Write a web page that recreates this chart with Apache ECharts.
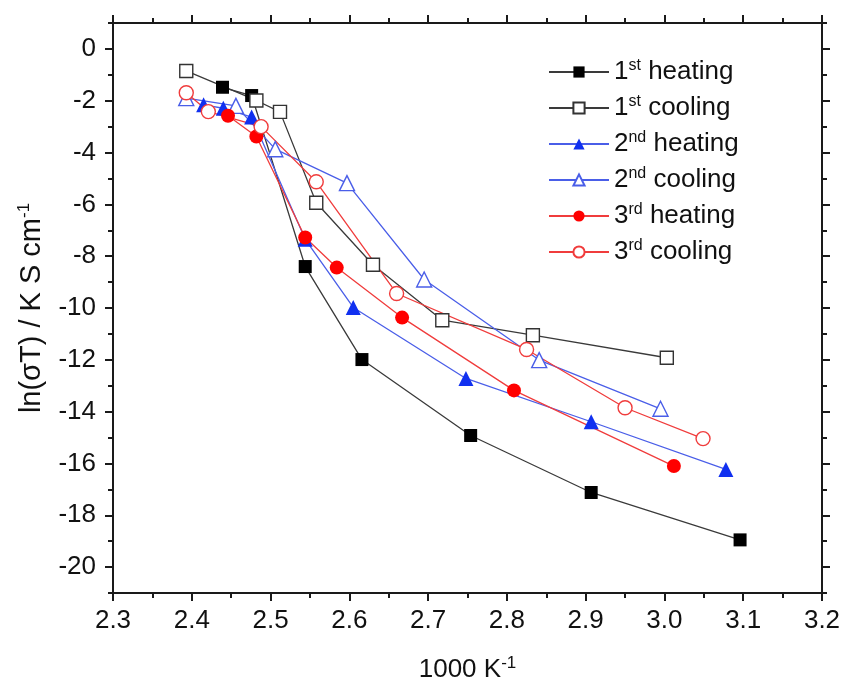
<!DOCTYPE html>
<html>
<head>
<meta charset="utf-8">
<script src="https://cdn.jsdelivr.net/npm/echarts@6/dist/echarts.min.js"></script>
<style>
  html, body { margin: 0; padding: 0; background: #fff; }
  #chart { width: 847px; height: 690px; }
</style>
</head>
<body>
<div id="chart"></div>
<script>
// Conductivity data: x = 1000/T (K^-1), y = ln(sigma*T)
const heating1 = [[2.439, -1.48], [2.476, -1.80], [2.544, -8.40], [2.616, -11.99], [2.754, -14.92], [2.907, -17.12], [3.096, -18.95]];
const cooling1 = [[2.393, -0.85], [2.482, -1.99], [2.512, -2.43], [2.558, -5.94], [2.630, -8.33], [2.718, -10.47], [2.833, -11.05], [3.003, -11.92]];
const heating2 = [[2.415, -2.16], [2.440, -2.29], [2.476, -2.63], [2.544, -7.35], [2.605, -9.98], [2.748, -12.72], [2.907, -14.39], [3.078, -16.23]];
const cooling2 = [[2.393, -1.90], [2.456, -2.20], [2.506, -3.87], [2.597, -5.18], [2.695, -8.90], [2.841, -12.01], [2.995, -13.89]];
const heating3 = [[2.446, -2.58], [2.482, -3.38], [2.544, -7.28], [2.584, -8.44], [2.667, -10.37], [2.809, -13.18], [3.012, -16.10]];
const cooling3 = [[2.393, -1.69], [2.421, -2.42], [2.488, -3.00], [2.558, -5.13], [2.660, -9.44], [2.825, -11.60], [2.950, -13.85], [3.049, -15.04]];

const seriesNames = ['1st heating', '1st cooling', '2nd heating', '2nd cooling', '3rd heating', '3rd cooling'];
const xTicks = [2.3, 2.4, 2.5, 2.6, 2.7, 2.8, 2.9, 3.0, 3.1, 3.2];
const yTicks = [-20, -18, -16, -14, -12, -10, -8, -6, -4, -2, 0];
const yMinorTicks = [-21, -19, -17, -15, -13, -11, -9, -7, -5, -3, -1, 1];

const FONT = '"Liberation Sans", Arial, sans-serif';
const AXIS_COLOR = '#1a1a1a';

const chart = echarts.init(document.getElementById('chart'), null, { renderer: 'canvas' });

function mkSeries(name, data, symbol, size, color, lineColor, filled) {
  return {
    name: name,
    type: 'line',
    data: data,
    symbol: symbol,
    symbolSize: size,
    showSymbol: true,
    xAxisIndex: 0,
    yAxisIndex: 0,
    lineStyle: { color: lineColor, width: 1.3 },
    itemStyle: filled
      ? { color: color, borderColor: color, borderWidth: 0 }
      : { color: '#fff', borderColor: color, borderWidth: 1.4 },
    emphasis: { disabled: true },
    z: 3
  };
}

const xCommon = {
  type: 'value', min: 2.3, max: 3.2, interval: 0.1,
  axisLine: { show: true, onZero: false, lineStyle: { color: AXIS_COLOR, width: 2 } },
  splitLine: { show: false }
};
const yCommon = {
  type: 'value', min: -21, max: 1,
  axisLine: { show: true, onZero: false, lineStyle: { color: AXIS_COLOR, width: 2 } },
  splitLine: { show: false }
};

const supStyle = { fontSize: 16, verticalAlign: 'top', fontFamily: FONT, color: '#111' };
const supTitle = { fontSize: 17, verticalAlign: 'top', fontFamily: FONT, color: '#111' };

const option = {
  backgroundColor: '#fff',
  animation: false,
  grid: { left: 113, right: 25, top: 23, bottom: 96, containLabel: false },
  legend: {
    orient: 'vertical',
    left: 548,
    top: 58,
    padding: 0,
    itemWidth: 60,
    itemHeight: 14,
    itemGap: 8,
    data: seriesNames,
    formatter: function (name) {
      return name.replace(/^(\d)(st|nd|rd)/, '$1{sup|$2}');
    },
    textStyle: {
      fontFamily: FONT, fontSize: 26, color: '#111', lineHeight: 28,
      rich: { sup: supStyle }
    }
  },
  xAxis: [
    Object.assign({}, xCommon, {
      position: 'bottom',
      name: '1000 K{sup|-1}',
      nameLocation: 'middle',
      nameGap: 62,
      nameTextStyle: { fontFamily: FONT, fontSize: 26, color: '#111', lineHeight: 30, rich: { sup: supTitle } },
      axisTick: { show: true, inside: false, length: 8, lineStyle: { color: AXIS_COLOR, width: 2 } },
      minorTick: { show: true, splitNumber: 2, length: 5, lineStyle: { color: AXIS_COLOR, width: 2 } },
      axisLabel: {
        show: true, margin: 15, fontFamily: FONT, fontSize: 26, color: '#111',
        customValues: xTicks,
        formatter: function (v) { return v.toFixed(1); }
      }
    }),
    Object.assign({}, xCommon, {
      position: 'top',
      axisTick: { show: true, inside: false, length: 8, lineStyle: { color: AXIS_COLOR, width: 2 } },
      minorTick: { show: true, splitNumber: 2, length: 5, lineStyle: { color: AXIS_COLOR, width: 2 } },
      axisLabel: { show: false }
    })
  ],
  yAxis: [
    Object.assign({}, yCommon, {
      position: 'left',
      name: 'ln(σT) / K S cm{sup|-1}',
      nameLocation: 'middle',
      nameGap: 64,
      nameRotate: 90,
      nameTextStyle: { fontFamily: FONT, fontSize: 29, color: '#111', lineHeight: 32, rich: { sup: supTitle } },
      axisTick: { show: true, inside: false, length: 8, customValues: yTicks, lineStyle: { color: AXIS_COLOR, width: 2 } },
      axisLabel: {
        show: true, margin: 17, fontFamily: FONT, fontSize: 26, color: '#111',
        customValues: yTicks,
        formatter: function (v) { return String(v); }
      }
    }),
    Object.assign({}, yCommon, {
      position: 'left',
      axisLine: { show: false },
      axisTick: { show: true, inside: false, length: 5, customValues: yMinorTicks, lineStyle: { color: AXIS_COLOR, width: 2 } },
      axisLabel: { show: false }
    }),
    Object.assign({}, yCommon, {
      position: 'right',
      axisTick: { show: true, inside: false, length: 8, customValues: yTicks, lineStyle: { color: AXIS_COLOR, width: 2 } },
      axisLabel: { show: false }
    }),
    Object.assign({}, yCommon, {
      position: 'right',
      axisLine: { show: false },
      axisTick: { show: true, inside: false, length: 5, customValues: yMinorTicks, lineStyle: { color: AXIS_COLOR, width: 2 } },
      axisLabel: { show: false }
    })
  ],
  series: [
    mkSeries(seriesNames[0], heating1, 'rect', 13, '#000000', '#3a3a3a', true),
    mkSeries(seriesNames[1], cooling1, 'rect', 13, '#333333', '#3a3a3a', false),
    mkSeries(seriesNames[2], heating2, 'triangle', 15, '#1030f0', '#4a5ee8', true),
    mkSeries(seriesNames[3], cooling2, 'triangle', 15, '#4a5ee8', '#4a5ee8', false),
    mkSeries(seriesNames[4], heating3, 'circle', 14, '#ff0000', '#f03c3c', true),
    mkSeries(seriesNames[5], cooling3, 'circle', 14, '#f03c3c', '#f03c3c', false)
  ]
};

chart.setOption(option);
</script>
</body>
</html>
